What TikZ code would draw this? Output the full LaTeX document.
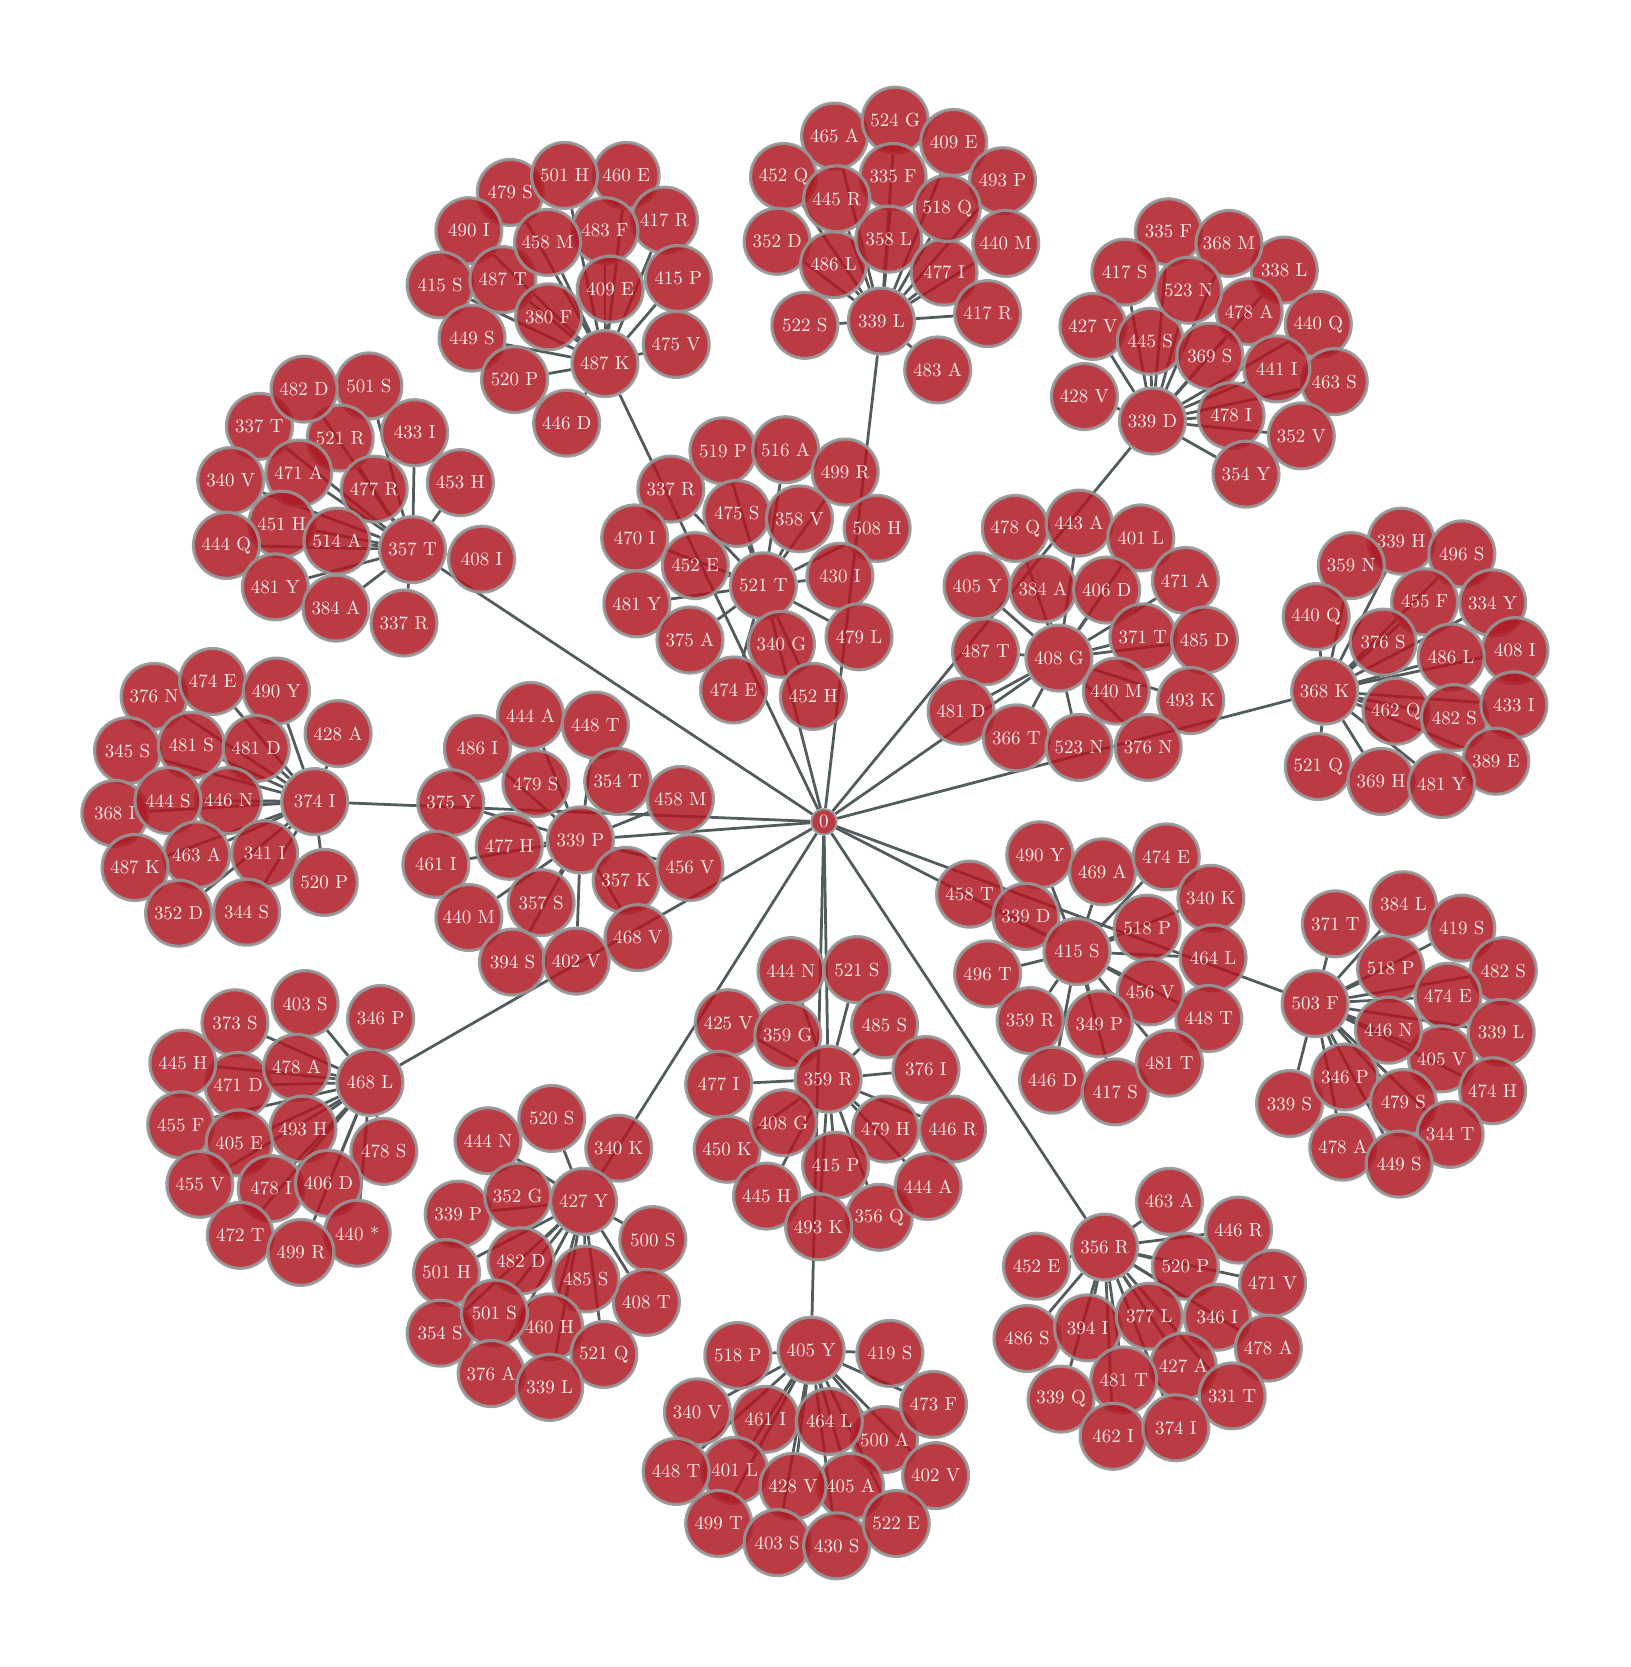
\documentclass[tikz,border=0pt]{standalone}
\usepackage{fontspec}
\newfontfamily\resfont{lmroman10-regular}[Extension=.otf]
\usetikzlibrary{backgrounds}
\definecolor{resred}{RGB}{175,25,35}
\definecolor{resrim}{RGB}{150,150,150}
\definecolor{restext}{RGB}{248,234,234}
\definecolor{linkgray}{RGB}{82,92,92}
\tikzset{
	res/.style={circle, minimum size=62pt, inner sep=0pt,
		fill=resred, fill opacity=0.85, draw=resrim, draw opacity=0.9,
		line width=3pt, text=restext, text opacity=1,
		font=\resfont\fontsize{17.8}{18}\selectfont},
	root/.style={res, minimum size=24pt, line width=2pt},
	link/.style={draw=linkgray, line width=2.6pt}
}
\begin{document}
\begin{tikzpicture}[x=1pt, y=-1pt]

		\useasboundingbox (0,0) rectangle (1534,1568);

		% centre
		\node[root] (root) at (775,773) {0};

		% cluster around 487 K
		\foreach \x/\y/\n/\t in {480/181/a1/479 S, 441/217/a2/490 I, 414/268/a3/415 S,
			589/165/a4/460 E, 625/207/a5/417 R, 569/217/a6/483 F, 531/165/a7/501 H,
			473/263/a8/487 T, 515/228/a9/458 M, 574/272/a10/409 E, 638/262/a11/415 P,
			516/298/a12/380 F, 444/318/a13/449 S, 636/324/a14/475 V, 484/357/a15/520 P,
			569/342/aH/487 K, 533/398/a16/446 D}
			\node[res] (\n) at (\x,\y) {\t};

		% cluster around 339 L
		\foreach \x/\y/\n/\t in {785/128/b1/465 A, 842/113/b2/524 G, 897/134/b3/409 E,
			943/170/b4/493 P, 737/166/b5/452 Q, 731/227/b6/352 D, 946/229/b7/440 M,
			840/166/b8/335 F, 784/249/b9/486 L, 836/225/b10/358 L, 888/256/b11/477 I,
			787/187/b12/445 R, 891/196/b13/518 Q, 757/306/b14/522 S, 929/295/b15/417 R,
			882/348/b16/483 A, 829/302/bH/339 L}
			\node[res] (\n) at (\x,\y) {\t};

		% cluster around 339 D
		\foreach \x/\y/\n/\t in {1099/218/c1/335 F, 1058/256/c2/417 S, 1208/254/c3/338 L,
			1156/229/c4/368 M, 1028/307/c5/427 V, 1240/305/c6/440 Q, 1175/293/c7/478 A,
			1082/321/c8/445 S, 1118/273/c9/523 N, 1255/359/c10/463 S, 1138/335/c11/369 S,
			1201/347/c12/441 I, 1020/373/c13/428 V, 1224/410/c14/352 V, 1158/391/c15/478 I,
			1172/446/c16/354 Y, 1084/396/cH/339 D}
			\node[res] (\n) at (\x,\y) {\t};

		% cluster around 357 T
		\foreach \x/\y/\n/\t in {244/401/d1/337 T, 347/363/d2/501 S, 320/412/d3/521 R,
			286/366/d4/482 D, 390/407/d5/433 I, 217/452/d6/340 V, 281/445/d7/471 A,
			352/460/d8/477 R, 433/454/d9/453 H, 265/493/d10/451 H, 213/513/d11/444 Q,
			317/509/d12/514 A, 453/526/d13/408 I, 259/552/d14/481 Y, 316/572/d15/384 A,
			380/586/d16/337 R, 388/517/dH/357 T}
			\node[res] (\n) at (\x,\y) {\t};

		% cluster around 521 T
		\foreach \x/\y/\n/\t in {631/460/e1/337 R, 680/424/e2/519 P, 739/423/e3/516 A,
			795/444/e4/499 R, 597/506/e5/470 I, 693/483/e6/475 S, 752/488/e7/358 V,
			825/497/e8/508 H, 654/532/e9/452 E, 790/542/e10/430 I, 718/551/eH/521 T,
			599/568/e11/481 Y, 649/602/e12/375 A, 808/599/e13/479 L, 735/606/e14/340 G,
			690/649/e15/474 E, 765/655/e16/452 H}
			\node[res] (\n) at (\x,\y) {\t};

		% cluster around 408 G
		\foreach \x/\y/\n/\t in {955/497/f1/478 Q, 1015/492/f2/443 A, 1073/506/f3/401 L,
			919/551/f4/405 Y, 981/554/f5/384 A, 1041/555/f6/406 D, 1115/546/f7/471 A,
			1075/599/f8/371 T, 1133/602/f9/485 D, 927/613/f10/487 T, 996/619/fH/408 G,
			904/669/f11/481 D, 1050/650/f12/440 M, 1120/659/f13/493 K, 956/694/f14/366 T,
			1015/703/f15/523 N, 1080/703/f16/376 N}
			\node[res] (\n) at (\x,\y) {\t};

		% cluster around 368 K
		\foreach \x/\y/\n/\t in {1318/509/g1/339 H, 1271/532/g2/359 N, 1375/521/g3/496 S,
			1238/580/g4/440 Q, 1340/566/g5/455 F, 1404/567/g6/334 Y, 1301/604/g7/376 S,
			1425/612/g8/408 I, 1365/618/g9/486 L, 1313/669/g10/462 Q, 1368/675/g11/482 S,
			1424/663/g12/433 I, 1407/716/g13/389 E, 1240/721/g14/521 Q, 1299/735/g15/369 H,
			1356/738/g16/481 Y, 1246/650/gH/368 K}
			\node[res] (\n) at (\x,\y) {\t};

		% cluster around 374 I
		\foreach \x/\y/\n/\t in {145/655/h1/376 N, 200/641/h2/474 E, 260/650/h3/490 Y,
			318/690/h4/428 A, 120/706/h5/345 S, 180/701/h6/481 S, 241/704/h7/481 D,
			108/765/h8/368 I, 215/753/h9/446 N, 158/753/h10/444 S, 185/804/h11/463 A,
			127/816/h12/487 K, 249/803/h13/341 I, 305/830/h14/520 P, 168/859/h15/352 D,
			232/858/h16/344 S, 296/754/hH/374 I}
			\node[res] (\n) at (\x,\y) {\t};

		% cluster around 339 P
		\foreach \x/\y/\n/\t in {499/673/i1/444 A, 560/682/i2/448 T, 449/704/i3/486 I,
			504/737/i4/479 S, 581/735/i5/354 T, 640/752/i6/458 M, 424/755/i7/375 Y,
			479/796/i8/477 H, 410/813/i9/461 I, 546/790/iH/339 P, 589/828/i10/357 K,
			649/816/i11/456 V, 509/849/i12/357 S, 441/863/i13/440 M, 482/905/i14/394 S,
			542/904/i15/402 V, 600/882/i16/468 V}
			\node[res] (\n) at (\x,\y) {\t};

		% cluster around 415 S
		\foreach \x/\y/\n/\t in {978/804/j1/490 Y, 1037/820/j2/469 A, 1097/806/j3/474 E,
			912/841/j4/458 T, 965/862/j5/339 D, 1139/845/j6/340 K, 1079/873/j7/518 P,
			1141/901/j8/464 L, 929/916/j9/496 T, 1013/895/jH/415 S, 1137/958/j10/448 T,
			1082/933/j11/456 V, 969/960/j12/359 R, 1034/963/j13/349 P, 990/1016/j14/446 D,
			1049/1027/j15/417 S, 1100/1000/j16/481 T}
			\node[res] (\n) at (\x,\y) {\t};

		% cluster around 503 F
		\foreach \x/\y/\n/\t in {1256/869/k1/371 T, 1320/851/k2/384 L, 1375/873/k3/419 S,
			1414/913/k4/482 S, 1308/911/k5/518 P, 1362/937/k6/474 E, 1356/996/k7/405 V,
			1412/971/k8/339 L, 1306/969/k9/446 N, 1404/1026/k10/474 H, 1213/1038/k11/339 S,
			1265/1013/k12/346 P, 1320/1037/k13/479 S, 1263/1079/k14/478 A,
			1364/1067/k15/344 T, 1316/1095/k16/449 S, 1237/944/kH/503 F}
			\node[res] (\n) at (\x,\y) {\t};

		% cluster around 468 L
		\foreach \x/\y/\n/\t in {287/944/l1/403 S, 221/962/l2/373 S, 358/958/l3/346 P,
			224/1021/l4/471 D, 172/1000/l5/445 H, 279/1004/l6/478 A, 170/1058/l7/455 F,
			285/1062/l8/493 H, 225/1075/l9/405 E, 361/1083/l10/478 S, 255/1118/l11/478 I,
			188/1114/l12/455 V, 309/1113/l13/406 D, 336/1160/l14/440 *, 226/1162/l15/472 T,
			283/1178/l16/499 R, 348/1018/lH/468 L}
			\node[res] (\n) at (\x,\y) {\t};

		% cluster around 427 Y
		\foreach \x/\y/\n/\t in {519/1052/m1/520 S, 459/1073/m2/444 N, 582/1080/m3/340 K,
			431/1142/m4/339 P, 487/1125/m5/352 G, 549/1130/mH/427 Y, 614/1166/m6/500 S,
			420/1197/m7/501 H, 490/1186/m8/482 D, 608/1225/m9/408 T, 551/1203/m10/485 S,
			414/1254/m11/354 S, 517/1248/m12/460 H, 465/1235/m13/501 S, 568/1274/m14/521 Q,
			462/1292/m15/376 A, 517/1305/m16/339 L}
			\node[res] (\n) at (\x,\y) {\t};

		% cluster around 359 R
		\foreach \x/\y/\n/\t in {744/913/n1/444 N, 806/912/n2/521 S, 685/962/n3/425 V,
			832/964/n4/485 S, 741/974/n5/359 G, 871/1006/n6/376 I, 676/1020/n7/477 I,
			779/1015/nH/359 R, 833/1062/n8/479 H, 896/1062/n9/446 R, 684/1081/n10/450 K,
			737/1056/n11/408 G, 786/1096/n12/415 P, 721/1125/n13/445 H, 827/1145/n14/356 Q,
			873/1116/n15/444 A, 770/1154/n16/493 K}
			\node[res] (\n) at (\x,\y) {\t};

		% cluster around 405 Y
		\foreach \x/\y/\n/\t in {694/1275/o1/518 P, 763/1270/oH/405 Y, 837/1273/o2/419 S,
			656/1328/o3/340 V, 720/1335/o4/461 I, 832/1354/o5/500 A, 780/1337/o6/464 L,
			878/1321/o7/473 F, 691/1383/o8/401 L, 636/1384/o9/448 T, 880/1388/o10/402 V,
			800/1398/o11/405 A, 746/1398/o12/428 V, 676/1433/o13/499 T, 731/1451/o14/403 S,
			787/1454/o15/430 S, 843/1433/o16/522 E}
			\node[res] (\n) at (\x,\y) {\t};

		% cluster around 356 R
		\foreach \x/\y/\n/\t in {1100/1130/p1/463 A, 1165/1157/p2/446 R, 1039/1173/pH/356 R,
			975/1191/p3/452 E, 1115/1191/p4/520 P, 1197/1207/p5/471 V, 966/1259/p6/486 S,
			1023/1249/p7/394 I, 1145/1239/p8/346 I, 1081/1238/p9/377 L, 1193/1268/p10/478 A,
			1113/1285/p11/427 A, 1057/1298/p12/481 T, 1159/1313/p13/331 T,
			998/1316/p14/339 Q, 1047/1351/p15/462 I, 1106/1343/p16/374 I}
			\node[res] (\n) at (\x,\y) {\t};

		% links: centre to hubs, hubs to leaves
		\begin{pgfonlayer}{background}
			\foreach \cl in {a,...,p} {
				\draw[link] (root) -- (\cl H);
				\foreach \i in {1,...,16}
					\draw[link] (\cl H) -- (\cl\i);
			}
		\end{pgfonlayer}

	\end{tikzpicture}
\end{document}
